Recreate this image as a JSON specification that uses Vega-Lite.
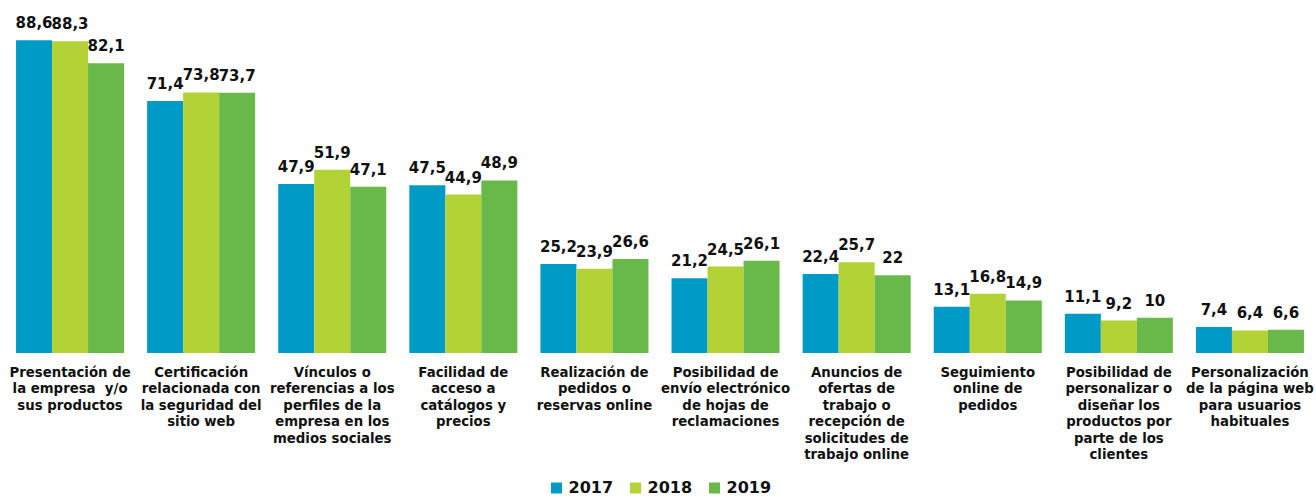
{
  "$schema": "https://vega.github.io/schema/vega-lite/v6.json",
  "width": 1311,
  "height": 353,
  "padding": {"left": 4.5, "top": 0, "right": 0, "bottom": 0},
  "autosize": {"type": "pad"},
  "config": {
    "view": {"stroke": null},
    "font": "DejaVu Sans",
    "locale": {"number": {"decimal": ",", "thousands": ".", "grouping": [3], "currency": ["", " €"]}}
  },
  "data": {
    "values": [
      {"cat": "Presentación de|la empresa \u00a0y/o|sus productos", "year": "2017", "value": 88.6},
      {"cat": "Presentación de|la empresa \u00a0y/o|sus productos", "year": "2018", "value": 88.3},
      {"cat": "Presentación de|la empresa \u00a0y/o|sus productos", "year": "2019", "value": 82.1},
      {"cat": "Certificación|relacionada con|la seguridad del|sitio web", "year": "2017", "value": 71.4},
      {"cat": "Certificación|relacionada con|la seguridad del|sitio web", "year": "2018", "value": 73.8},
      {"cat": "Certificación|relacionada con|la seguridad del|sitio web", "year": "2019", "value": 73.7},
      {"cat": "Vínculos o|referencias a los|perfiles de la|empresa en los|medios sociales", "year": "2017", "value": 47.9},
      {"cat": "Vínculos o|referencias a los|perfiles de la|empresa en los|medios sociales", "year": "2018", "value": 51.9},
      {"cat": "Vínculos o|referencias a los|perfiles de la|empresa en los|medios sociales", "year": "2019", "value": 47.1},
      {"cat": "Facilidad de|acceso a|catálogos y|precios", "year": "2017", "value": 47.5},
      {"cat": "Facilidad de|acceso a|catálogos y|precios", "year": "2018", "value": 44.9},
      {"cat": "Facilidad de|acceso a|catálogos y|precios", "year": "2019", "value": 48.9},
      {"cat": "Realización de|pedidos o|reservas online", "year": "2017", "value": 25.2},
      {"cat": "Realización de|pedidos o|reservas online", "year": "2018", "value": 23.9},
      {"cat": "Realización de|pedidos o|reservas online", "year": "2019", "value": 26.6},
      {"cat": "Posibilidad de|envío electrónico|de hojas de|reclamaciones", "year": "2017", "value": 21.2},
      {"cat": "Posibilidad de|envío electrónico|de hojas de|reclamaciones", "year": "2018", "value": 24.5},
      {"cat": "Posibilidad de|envío electrónico|de hojas de|reclamaciones", "year": "2019", "value": 26.1},
      {"cat": "Anuncios de|ofertas de|trabajo o|recepción de|solicitudes de|trabajo online", "year": "2017", "value": 22.4},
      {"cat": "Anuncios de|ofertas de|trabajo o|recepción de|solicitudes de|trabajo online", "year": "2018", "value": 25.7},
      {"cat": "Anuncios de|ofertas de|trabajo o|recepción de|solicitudes de|trabajo online", "year": "2019", "value": 22},
      {"cat": "Seguimiento|online de|pedidos", "year": "2017", "value": 13.1},
      {"cat": "Seguimiento|online de|pedidos", "year": "2018", "value": 16.8},
      {"cat": "Seguimiento|online de|pedidos", "year": "2019", "value": 14.9},
      {"cat": "Posibilidad de|personalizar o|diseñar los|productos por|parte de los|clientes", "year": "2017", "value": 11.1},
      {"cat": "Posibilidad de|personalizar o|diseñar los|productos por|parte de los|clientes", "year": "2018", "value": 9.2},
      {"cat": "Posibilidad de|personalizar o|diseñar los|productos por|parte de los|clientes", "year": "2019", "value": 10},
      {"cat": "Personalización|de la página web|para usuarios|habituales", "year": "2017", "value": 7.4},
      {"cat": "Personalización|de la página web|para usuarios|habituales", "year": "2018", "value": 6.4},
      {"cat": "Personalización|de la página web|para usuarios|habituales", "year": "2019", "value": 6.6}
    ]
  },
  "encoding": {
    "x": {
      "field": "cat",
      "type": "nominal",
      "sort": null,
      "scale": {"paddingInner": 0.176, "paddingOuter": 0.088},
      "axis": {
        "title": null,
        "labelAngle": 0,
        "labelExpr": "split(datum.label, '|')",
        "labelFont": "DejaVu Sans",
        "labelFontSize": 13.3,
        "labelFontWeight": "bold",
        "labelColor": "#111111",
        "labelLineHeight": 16.5,
        "labelPadding": 12,
        "labelBaseline": "top",
        "labelLimit": 300,
        "ticks": false,
        "domain": false,
        "grid": false
      }
    },
    "xOffset": {"field": "year", "type": "nominal"},
    "y": {"field": "value", "type": "quantitative", "scale": {"domain": [0, 100]}, "axis": null}
  },
  "layer": [
    {
      "mark": {"type": "bar"},
      "encoding": {
        "color": {
          "field": "year",
          "type": "nominal",
          "scale": {"domain": ["2017", "2018", "2019"], "range": ["#009AC7", "#B2D235", "#68B94A"]},
          "legend": {
            "title": null,
            "orient": "none",
            "direction": "horizontal",
            "legendX": 544,
            "legendY": 480,
            "symbolType": "square",
            "symbolSize": 121,
            "symbolStrokeWidth": 0,
            "symbolOpacity": 1,
            "labelFont": "DejaVu Sans",
            "labelFontSize": 16,
            "labelFontWeight": "bold",
            "labelColor": "#111111",
            "labelOffset": 4,
            "columnPadding": 14
          }
        }
      }
    },
    {
      "mark": {"type": "text", "baseline": "alphabetic", "dy": -12, "fontSize": 15, "fontWeight": "bold", "font": "DejaVu Sans", "color": "#111111"},
      "encoding": {
        "text": {"field": "value", "type": "quantitative", "format": ".3~r"}
      }
    }
  ]
}
